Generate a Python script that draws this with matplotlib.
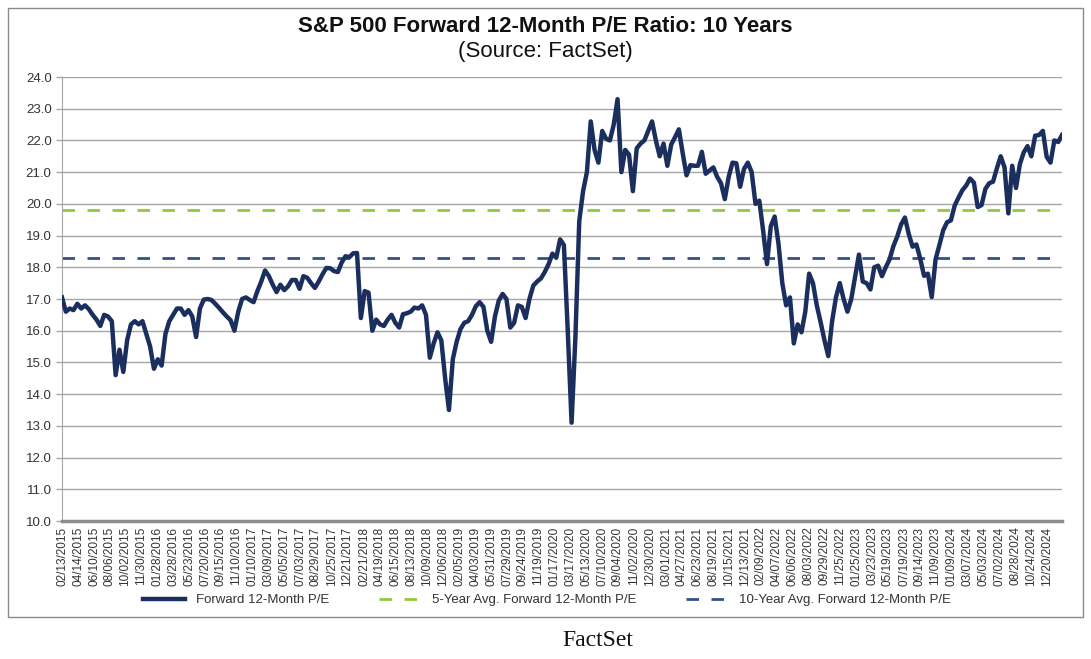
import numpy as np
import pandas as pd
import matplotlib
matplotlib.use("Agg")
import matplotlib.pyplot as plt
from matplotlib.patches import Rectangle
from matplotlib.ticker import FormatStrFormatter

# Forward 12-month P/E, every 14 days starting 02/13/2015
pe = [
    17.05, 16.6, 16.7, 16.65, 16.85, 16.7, 16.8, 16.68, 16.5, 16.35,
    16.15, 16.5, 16.45, 16.3, 14.6, 15.4, 14.7, 15.7, 16.2, 16.3,
    16.2, 16.3, 15.9, 15.5, 14.8, 15.1, 14.9, 15.9, 16.3, 16.5,
    16.7, 16.7, 16.5, 16.65, 16.45, 15.8, 16.7, 16.98, 17.0, 16.97,
    16.85, 16.72, 16.58, 16.45, 16.33, 16.0, 16.6, 17.0, 17.05, 16.97,
    16.9, 17.25, 17.55, 17.9, 17.72, 17.45, 17.22, 17.45, 17.28, 17.4,
    17.6, 17.6, 17.32, 17.72, 17.67, 17.5, 17.35, 17.55, 17.78, 17.98,
    17.97, 17.88, 17.85, 18.15, 18.35, 18.32, 18.44, 18.45, 16.4, 17.25,
    17.2, 16.0, 16.35, 16.2, 16.15, 16.35, 16.5, 16.25, 16.1, 16.52,
    16.55, 16.6, 16.73, 16.7, 16.8, 16.5, 15.15, 15.6, 15.95, 15.7,
    14.5, 13.5, 15.1, 15.65, 16.05, 16.25, 16.3, 16.5, 16.77, 16.9,
    16.75, 16.0, 15.65, 16.45, 16.95, 17.16, 17.0, 16.1, 16.25, 16.8,
    16.75, 16.4, 17.0, 17.42, 17.55, 17.65, 17.85, 18.1, 18.43, 18.3,
    18.88, 18.7, 16.0, 13.1, 15.8, 19.45, 20.4, 21.0, 22.6, 21.7,
    21.3, 22.3, 22.05, 22.0, 22.5, 23.3, 21.0, 21.7, 21.55, 20.4,
    21.75, 21.9, 22.0, 22.3, 22.6, 22.0, 21.5, 21.9, 21.2, 21.87,
    22.1, 22.35, 21.6, 20.9, 21.22, 21.2, 21.2, 21.64, 20.95, 21.05,
    21.15, 20.85, 20.65, 20.15, 20.85, 21.3, 21.28, 20.54, 21.1, 21.3,
    21.0, 20.0, 20.1, 19.15, 18.1, 19.3, 19.6, 18.75, 17.5, 16.8,
    17.05, 15.6, 16.2, 15.95, 16.6, 17.8, 17.5, 16.8, 16.27, 15.7,
    15.2, 16.3, 17.05, 17.5, 17.0, 16.6, 17.0, 17.7, 18.4, 17.55,
    17.5, 17.3, 18.0, 18.05, 17.72, 18.0, 18.25, 18.67, 18.97, 19.35,
    19.57, 19.05, 18.65, 18.72, 18.27, 17.73, 17.8, 17.06, 18.25, 18.7,
    19.17, 19.42, 19.48, 19.95, 20.2, 20.43, 20.58, 20.8, 20.67, 19.9,
    19.96, 20.47, 20.65, 20.7, 21.12, 21.5, 21.15, 19.7, 21.2, 20.5,
    21.25, 21.62, 21.82, 21.5, 22.15, 22.17, 22.3, 21.48, 21.3, 22.0,
    21.95, 22.17,
]
dates = pd.date_range("2015-02-13", periods=len(pe), freq="14D")

avg_5yr = 19.8
avg_10yr = 18.3

tick_labels = [
    "02/13/2015", "04/14/2015", "06/10/2015", "08/06/2015", "10/02/2015", "11/30/2015",
    "01/28/2016", "03/28/2016", "05/23/2016", "07/20/2016", "09/15/2016", "11/10/2016",
    "01/10/2017", "03/09/2017", "05/05/2017", "07/03/2017", "08/29/2017", "10/25/2017",
    "12/21/2017", "02/21/2018", "04/19/2018", "06/15/2018", "08/13/2018", "10/09/2018",
    "12/06/2018", "02/05/2019", "04/03/2019", "05/31/2019", "07/29/2019", "09/24/2019",
    "11/19/2019", "01/17/2020", "03/17/2020", "05/13/2020", "07/10/2020", "09/04/2020",
    "11/02/2020", "12/30/2020", "03/01/2021", "04/27/2021", "06/23/2021", "08/19/2021",
    "10/15/2021", "12/13/2021", "02/09/2022", "04/07/2022", "06/06/2022", "08/03/2022",
    "09/29/2022", "11/25/2022", "01/25/2023", "03/23/2023", "05/19/2023", "07/19/2023",
    "09/14/2023", "11/09/2023", "01/09/2024", "03/07/2024", "05/03/2024", "07/02/2024",
    "08/28/2024", "10/24/2024", "12/20/2024",
]

plt.rcParams["font.family"] = ["Liberation Sans", "DejaVu Sans"]

W, H = 1091, 659
fig = plt.figure(figsize=(W / 100, H / 100), dpi=100)
ax = fig.add_axes([62 / W, 1 - 521 / H, 1000 / W, 444 / H])

line_pe, = ax.plot(dates, pe, color="#1b2f5e", lw=3.2, solid_joinstyle="round", zorder=3,
                   label="Forward 12-Month P/E")
line_5, = ax.plot([dates[0], dates[-1]], [avg_5yr, avg_5yr], color="#92c83e", lw=2,
                  dashes=(4.5, 4.5), zorder=2, label="5-Year Avg. Forward 12-Month P/E")
line_10, = ax.plot([dates[0], dates[-1]], [avg_10yr, avg_10yr], color="#34508b", lw=2,
                   dashes=(4.5, 4.5), zorder=2, label="10-Year Avg. Forward 12-Month P/E")

ax.set_xlim(dates[0], dates[-1])
ax.set_ylim(10, 24)
ax.set_yticks(np.arange(10, 24.5, 1))
ax.yaxis.set_major_formatter(FormatStrFormatter("%.1f"))
ax.tick_params(axis="y", labelsize=9.5, colors="#333333", length=4, width=1)
ax.tick_params(axis="y", color="#a6a6a6")

ax.set_xticks(pd.to_datetime(tick_labels, format="%m/%d/%Y"))
ax.set_xticklabels(tick_labels, rotation=90, fontsize=8.5, color="#333333")
ax.tick_params(axis="x", length=0, pad=4)

ax.yaxis.grid(True, color="#a6a6a6", lw=1)
ax.set_axisbelow(True)
for s in ["top", "right"]:
    ax.spines[s].set_visible(False)
ax.spines["left"].set_color("#a6a6a6")
ax.spines["bottom"].set_color("#8c8c8c")
ax.spines["bottom"].set_linewidth(2.5)

# titles
fig.text(545 / W, 1 - 26 / H, "S&P 500 Forward 12-Month P/E Ratio: 10 Years",
         ha="center", va="center", fontsize=16, fontweight="bold", color="#111111")
fig.text(545 / W, 1 - 51 / H, "(Source: FactSet)", ha="center", va="center",
         fontsize=16, color="#111111")

fig.legend(handles=[line_pe, line_5, line_10], loc="center",
           bbox_to_anchor=(547 / W, 1 - 600 / H), ncol=3, frameon=False,
           fontsize=9.5, handlelength=3.2, columnspacing=3.8, labelcolor="#333333")

# frame around the chart and the caption underneath
fig.add_artist(Rectangle((8 / W, 1 - 617 / H), 1075 / W, 609 / H, transform=fig.transFigure,
                         fill=False, edgecolor="#8c8c8c", lw=1))
fig.text(598 / W, 1 - 640 / H, "FactSet", ha="center", va="center", fontsize=17,
         family="Liberation Serif", color="#111111")

fig.savefig("out.png", dpi=100)
